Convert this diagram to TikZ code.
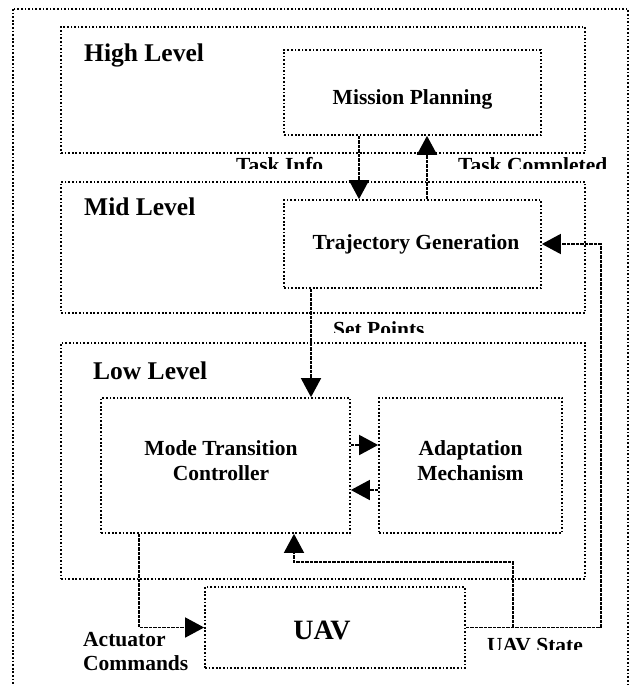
\documentclass[tikz,border=0pt]{standalone}
\usepackage{fontspec}
\setmainfont{Liberation Serif}
\usetikzlibrary{arrows.meta, positioning, calc}
\tikzset{
  dots/.style={draw, line width=1.7pt, dash pattern=on 1.7pt off 1.9pt},
  arr/.style={-{Triangle[length=19pt,width=20pt]}, line width=1.6pt,
              dash pattern=on 3.5pt off 1pt}
}

\begin{document}
\begin{tikzpicture}[
  x=1pt, y=-1pt,
  lvl/.style={dots, minimum width=524pt, inner sep=0pt},
  blk/.style={dots, inner sep=0pt},
  txt/.style={font=\fontsize{21.5}{25}\selectfont\bfseries, inner sep=0pt,
              align=center},
  ttl/.style={font=\fontsize{25.5}{30}\selectfont\bfseries, inner sep=0pt,
              anchor=base west},
  lbl/.style={font=\fontsize{21.5}{24}\selectfont\bfseries, inner sep=0pt,
              anchor=base west}
]
  \useasboundingbox (0,0) rectangle (632,686);
  \draw[dots] (13,9) rectangle (628,720);

  % levels
  \node[lvl, minimum height=126pt] (hi)  at (323,90)    {};
  \node[lvl, minimum height=131pt] (mid) at (323,247.5) {};
  \node[lvl, minimum height=236pt] (lo)  at (323,461)   {};
  \node[ttl] (hit)  at (84,61)  {High Level};
  \node[ttl] (midt) at (84,215) {Mid Level};
  \node[ttl] (lot)  at (93,379) {Low Level};

  % blocks
  \node[blk, minimum width=257pt, minimum height=85pt]  (mp)  at (412.5,92.5)  {};
  \node[blk, minimum width=257pt, minimum height=88pt]  (tg)  at (412.5,244)   {};
  \node[blk, minimum width=249pt, minimum height=135pt] (mtc) at (225.5,465.5) {};
  \node[blk, minimum width=183pt, minimum height=135pt] (am)  at (470.5,465.5) {};
  \node[blk, minimum width=260pt, minimum height=81pt]  (uav) at (335,627.5)   {};

  \node[txt, anchor=base] (mpt)  at (412.5,104) {Mission Planning};
  \node[txt, anchor=base] (tgt)  at (416,249)   {Trajectory Generation};
  \node[txt] (mtct) at (221,460.5)  {Mode Transition\\Controller};
  \node[txt] (amt)  at (470.5,460.5) {Adaptation\\Mechanism};
  \node[txt, anchor=base, font=\fontsize{28}{32}\selectfont\bfseries]
    (uavt) at (322,639) {UAV};

  % signal names (cut off as in the drawing)
  \begin{scope}
    \clip (0,0) rectangle (632,168);
    \node[lbl] (ti) at (236,172) {Task Info};
    \node[lbl] (tc) at (458,172) {Task Completed};
  \end{scope}
  \begin{scope}
    \clip (0,300) rectangle (632,332);
    \node[lbl] (sp) at (333,336) {Set Points};
  \end{scope}
  \begin{scope}
    \clip (0,630) rectangle (632,649);
    \node[lbl] (us) at (487,652.5) {UAV State};
  \end{scope}
  \node[lbl, anchor=west, align=left] (ac) at (83,651.7) {Actuator\\Commands};

  % connectors
  \draw[arr] ([xshift=-53.5pt]mp.south) -- ([xshift=-53.5pt]tg.north);
  \draw[arr] ([xshift=14.5pt]tg.north) -- ([xshift=14.5pt]mp.south);
  \draw[arr] ([xshift=-101.5pt]tg.south) -- ([xshift=85.5pt]mtc.north);
  \draw[arr] ([yshift=20.5pt]mtc.east) -- ([yshift=20.5pt]am.west);
  \draw[arr] ([yshift=-24.5pt]am.west) -- ([yshift=-24.5pt]mtc.east);
  \draw[arr] ([xshift=-86.5pt]mtc.south) |- (uav.west);
  \draw[arr] (uav.east) -- ++(135,0) |- (tg.east);
  \coordinate (br) at (513,627.5);
  \draw[arr] (br) -- ++(0,-65.5) -| ([xshift=68.5pt]mtc.south);
\end{tikzpicture}
\end{document}
